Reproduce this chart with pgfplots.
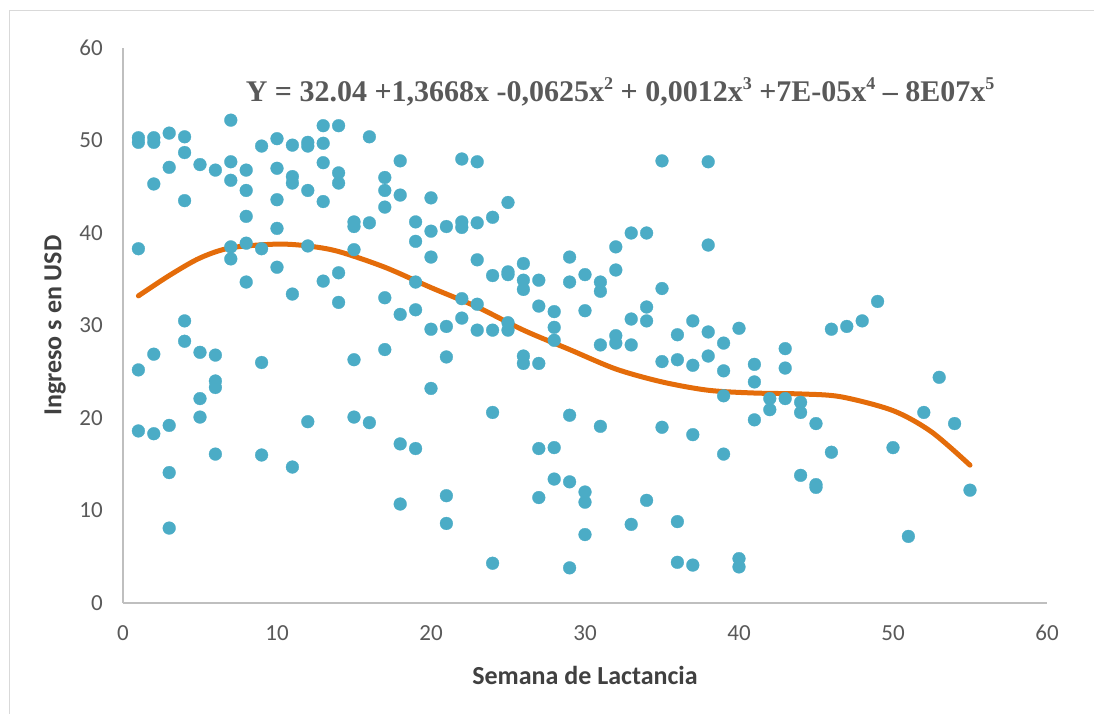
\documentclass[border=0pt]{standalone}
\usepackage{fontspec}
\setmainfont{Carlito}
\newfontfamily\eqfont{Liberation Serif}
\usepackage{pgfplots}
\pgfplotsset{compat=1.18}
\definecolor{dotc}{HTML}{4BACC6}
\definecolor{curvec}{HTML}{E46C0A}
\definecolor{txtc}{HTML}{595959}
\definecolor{labc}{HTML}{404040}
\definecolor{axc}{HTML}{BFBFBF}
\definecolor{bordc}{HTML}{D9D9D9}
\newcommand{\sups}[1]{\raisebox{0.42em}{\fontsize{18}{18}\selectfont #1}}
\begin{document}
\begin{tikzpicture}
\clip (-123pt,-110pt) rectangle (971pt,603pt);
\draw[bordc, line width=1pt] (-113pt,-130pt) rectangle (990pt,592pt);
\begin{axis}[
  at={(0pt,0pt)}, anchor=south west,
  scale only axis, width=924pt, height=555pt,
  xmin=0, xmax=60, ymin=0, ymax=60,
  xtick={0,10,...,60}, ytick={0,10,...,60},
  axis x line*=bottom, axis y line*=left,
  axis line style={draw=axc, line width=1.2pt, -},
  major tick length=0pt,
  tick label style={font=\fontsize{23}{23}\selectfont, text=txtc, inner sep=0pt},
  yticklabel style={anchor=east, xshift=-20pt},
  xticklabel style={anchor=north, yshift=-22pt},
  /pgf/number format/assume math mode=true,
  xlabel={\textbf{Semana de Lactancia}},
  ylabel={\textbf{Ingreso s en USD}},
  label style={font=\fontsize{26}{26}\selectfont, text=labc},
  xlabel style={at={(axis description cs:0.5,-0.1297)}, anchor=center},
  ylabel style={at={(axis description cs:-0.0736,0.5)}, anchor=center, rotate=0},
  clip=false,
]
\addplot[only marks, mark=*, mark size=6.4pt, mark options={fill=dotc, draw=dotc, line width=0.3pt}] coordinates {
(1,50.3)(1,49.8)(1,38.3)(1,25.2)(1,18.6)
(2,50.3)(2,49.8)(2,45.3)(2,26.9)(2,18.3)
(3,50.8)(3,47.1)(3,19.2)(3,14.1)(3,8.1)
(4,50.4)(4,48.7)(4,43.5)(4,30.5)(4,28.3)
(5,47.4)(5,27.1)(5,22.1)(5,20.1)
(6,46.8)(6,26.8)(6,24.0)(6,23.3)(6,16.1)
(7,52.2)(7,47.7)(7,45.7)(7,38.5)(7,37.2)
(8,46.8)(8,44.6)(8,41.8)(8,38.9)(8,34.7)
(9,49.4)(9,38.3)(9,26.0)(9,16.0)
(10,50.2)(10,47.0)(10,43.6)(10,40.5)(10,36.3)
(11,49.5)(11,46.1)(11,45.4)(11,33.4)(11,14.7)
(12,49.8)(12,49.4)(12,44.6)(12,38.6)(12,19.6)
(13,51.6)(13,49.7)(13,47.6)(13,43.4)(13,34.8)
(14,51.6)(14,46.5)(14,45.4)(14,35.7)(14,32.5)
(15,41.2)(15,40.7)(15,38.2)(15,26.3)(15,20.1)
(16,50.4)(16,41.1)(16,19.5)
(17,46.0)(17,44.6)(17,42.8)(17,33.0)(17,27.4)
(18,47.8)(18,44.1)(18,31.2)(18,17.2)(18,10.7)
(19,41.2)(19,39.1)(19,34.7)(19,31.7)(19,16.7)
(20,43.8)(20,40.2)(20,37.4)(20,29.6)(20,23.2)
(21,40.7)(21,29.9)(21,26.6)(21,11.6)(21,8.6)
(22,48.0)(22,41.2)(22,40.6)(22,32.9)(22,30.8)
(23,47.7)(23,41.1)(23,37.1)(23,32.3)(23,29.5)
(24,41.7)(24,35.4)(24,29.5)(24,20.6)(24,4.3)
(25,43.3)(25,35.8)(25,35.5)(25,30.3)(25,29.5)
(26,36.7)(26,34.9)(26,33.9)(26,26.7)(26,25.9)
(27,34.9)(27,32.1)(27,25.9)(27,16.7)(27,11.4)
(28,31.5)(28,29.8)(28,28.4)(28,16.8)(28,13.4)
(29,37.4)(29,34.7)(29,20.3)(29,13.1)(29,3.8)
(30,35.5)(30,31.6)(30,12.0)(30,10.9)(30,7.4)
(31,34.7)(31,33.7)(31,27.9)(31,19.1)
(32,38.5)(32,36.0)(32,28.9)(32,28.1)
(33,40.0)(33,30.7)(33,27.9)(33,8.5)
(34,40.0)(34,32.0)(34,30.5)(34,11.1)
(35,47.8)(35,34.0)(35,26.1)(35,19.0)
(36,29.0)(36,26.3)(36,8.8)(36,4.4)
(37,30.5)(37,25.7)(37,18.2)(37,4.1)
(38,47.7)(38,38.7)(38,29.3)(38,26.7)
(39,28.1)(39,25.1)(39,22.4)(39,16.1)
(40,29.7)(40,4.8)(40,3.9)
(41,25.8)(41,23.9)(41,19.8)
(42,22.1)(42,20.9)
(43,27.5)(43,25.4)(43,22.1)
(44,21.7)(44,20.6)(44,13.8)
(45,19.4)(45,12.8)(45,12.5)
(46,29.6)(46,16.3)
(47,29.9)(48,30.5)(49,32.6)(50,16.8)(51,7.2)
(52,20.6)(53,24.4)(54,19.4)(55,12.2)
};
\addplot[curvec, line width=5pt, line cap=round, smooth, no marks] coordinates {
(1,33.2)(3,35.4)(5,37.3)(7,38.4)(10,38.8)(12,38.6)(14,38.0)(17,36.3)
(20,34.1)(23,32.0)(26,29.5)(29,27.4)(32,25.3)(35,23.9)(38,23.0)
(41,22.7)(44,22.6)(46.6,22.3)(50,20.8)(52.5,18.5)(55,14.9)
};
\node[font=\eqfont\bfseries\fontsize{30}{30}\selectfont, text=txtc, anchor=center]
  at (axis description cs:0.538,0.9207)
  {Y = 32.04 +1,3668x -0,0625x\sups{2} + 0,0012x\sups{3} +7E-05x\sups{4} – 8E07x\sups{5}};
\end{axis}
\end{tikzpicture}
\end{document}
